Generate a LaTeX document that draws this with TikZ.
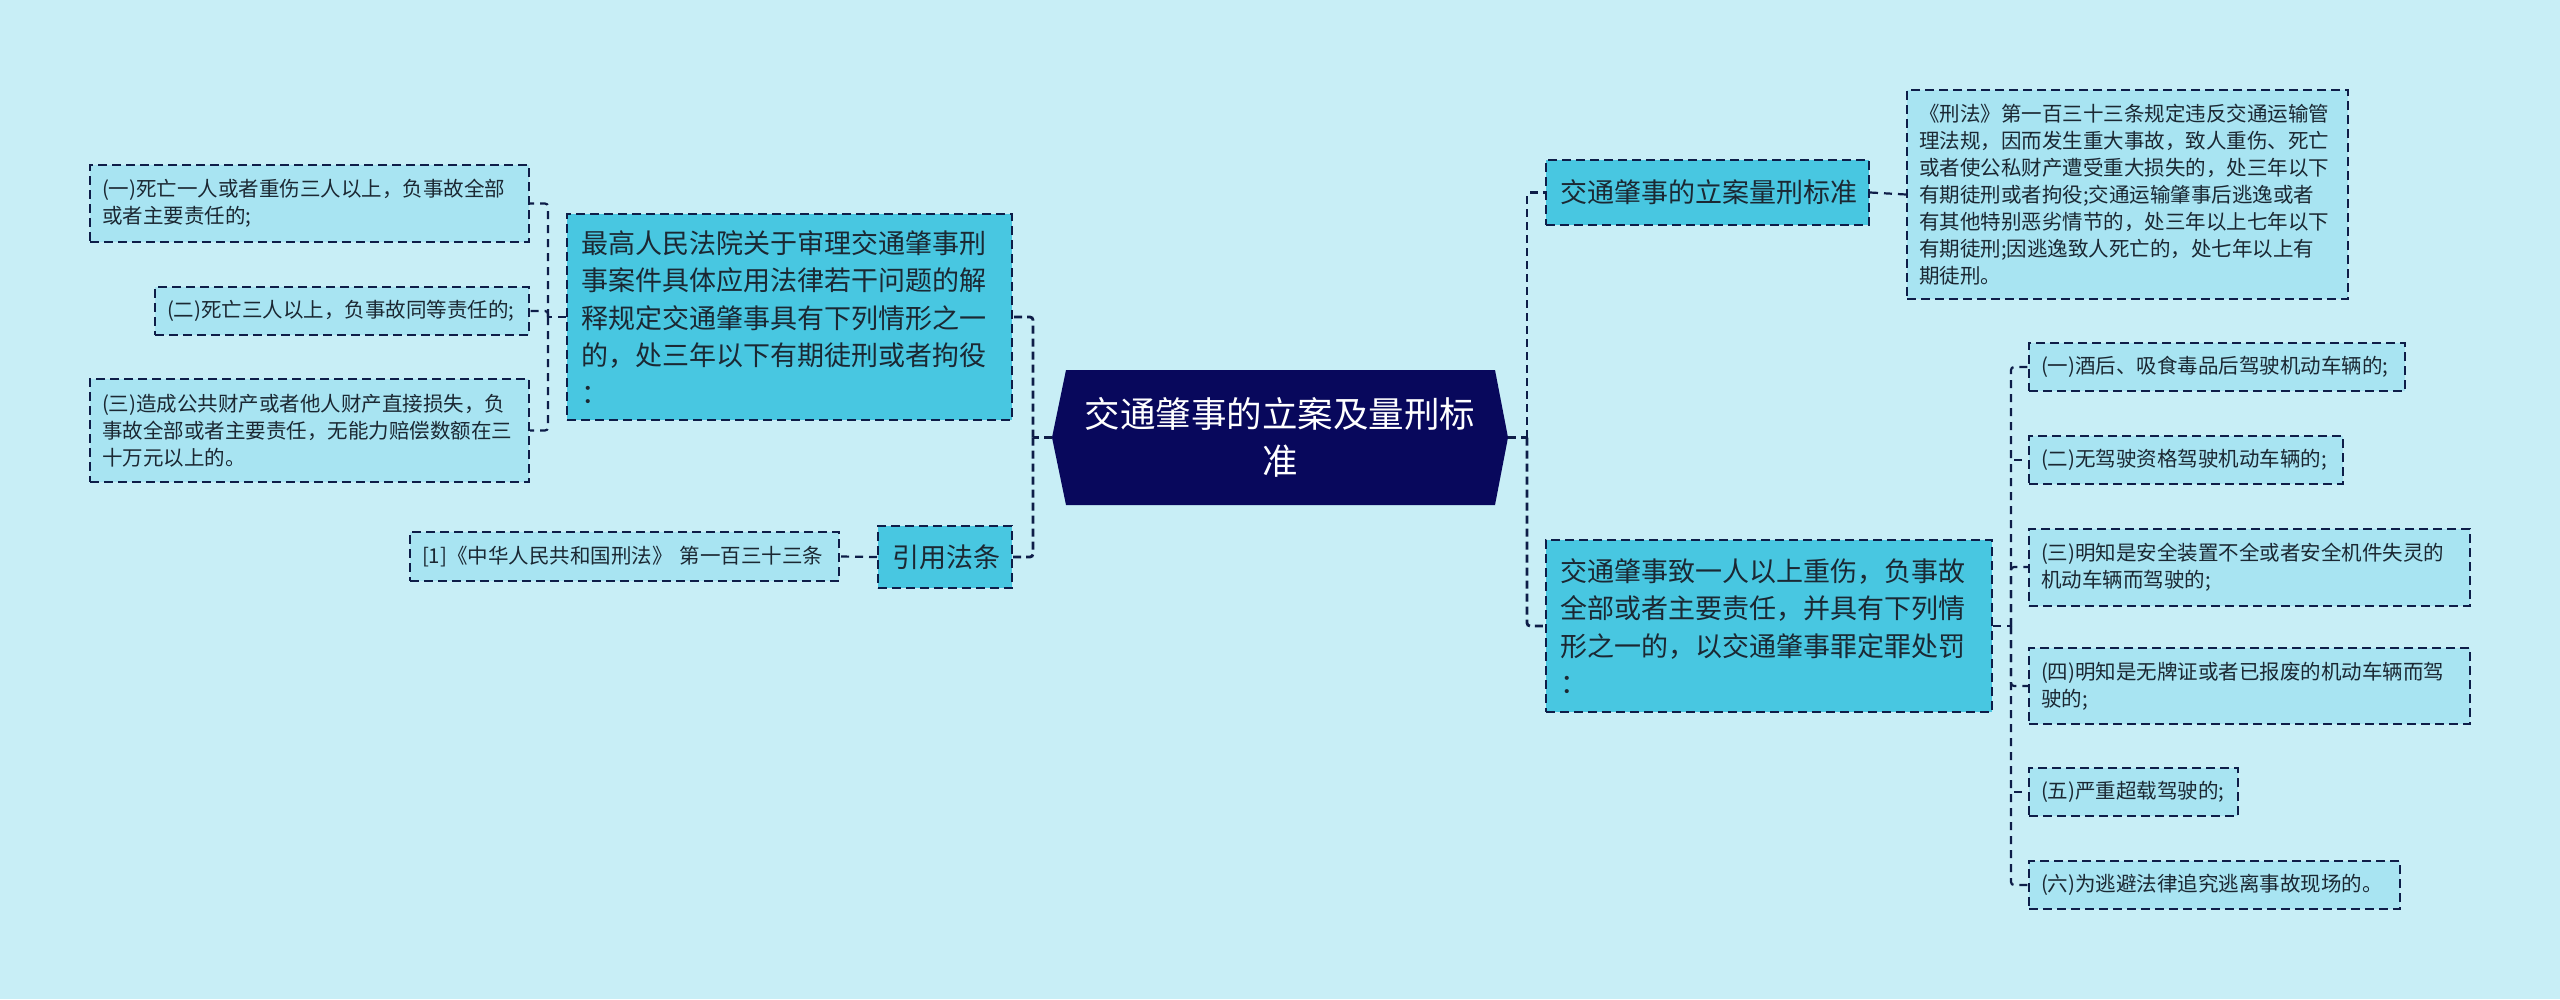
\documentclass[tikz,border=0pt]{standalone}
\usepackage{fontspec}
\newfontfamily\cjk{Noto Sans CJK SC}
\usetikzlibrary{calc}
\definecolor{bgc}{HTML}{C8EEF6}
\definecolor{midc}{HTML}{48C7E1}
\definecolor{leafc}{HTML}{A8E4F2}
\definecolor{rootc}{HTML}{08085C}
\definecolor{linec}{HTML}{0E1D48}
\definecolor{txtc}{HTML}{1B2833}
\begin{document}
\begin{tikzpicture}[x=1pt,y=-1pt,
  conn/.style={draw=linec, line width=2.8pt, dash pattern=on 8pt off 5pt, rounded corners=3pt},
  connb/.style={draw=linec, line width=2.2pt, dash pattern=on 8pt off 6pt, rounded corners=3pt},
  boxbase/.style={draw=linec, line width=2pt, dash pattern=on 9pt off 5pt, text=txtc, align=left, inner ysep=0pt, anchor=center},
  midbox/.style={boxbase, fill=midc, font=\cjk\fontsize{27}{37.5}\selectfont, inner xsep=14pt},
  leafbox/.style={boxbase, fill=leafc, font=\cjk\fontsize{20.5}{27}\selectfont, inner xsep=12pt},
]
\fill[bgc] (0,0) rectangle (2560,999);
\useasboundingbox (0,0) rectangle (2560,999);

% root hexagon
\fill[rootc] (1052,437.5) -- (1066,370) -- (1495,370) -- (1508,437.5) -- (1495,505) -- (1066,505) -- cycle;
\node[minimum width=456pt, minimum height=135pt, inner sep=0pt, text=white, align=center,
  font=\cjk\fontsize{35.5}{47}\selectfont] (root) at (1280,437.5) {交通肇事的立案及量刑标\\准};

% left side
\node[midbox, text width=417pt, minimum height=206pt] (L1) at (789.5,317)
 {最高人民法院关于审理交通肇事刑\\事案件具体应用法律若干问题的解\\释规定交通肇事具有下列情形之一\\的，处三年以下有期徒刑或者拘役\\：};
\node[midbox, text width=106pt, minimum height=62pt, align=center] (L2) at (945,557) {引用法条};

\node[leafbox, text width=415pt, minimum height=77pt] (LL1) at (309.5,203.5)
 {(一)死亡一人或者重伤三人以上，负事故全部\\或者主要责任的;};
\node[leafbox, text width=350pt, minimum height=48pt] (LL2) at (342,311)
 {(二)死亡三人以上，负事故同等责任的;};
\node[leafbox, text width=415pt, minimum height=103pt] (LL3) at (309.5,430.5)
 {(三)造成公共财产或者他人财产直接损失，负\\事故全部或者主要责任，无能力赔偿数额在三\\十万元以上的。};
\node[leafbox, text width=405pt, minimum height=49pt] (LR) at (624.5,556.5)
 {[1]《中华人民共和国刑法》 第一百三十三条};

% right side
\node[midbox, text width=295pt, minimum height=65pt] (R1) at (1707.5,192.5) {交通肇事的立案量刑标准};
\node[leafbox, text width=417pt, minimum height=209pt] (R1a) at (2127.5,194.5)
 {《刑法》第一百三十三条规定违反交通运输管\\理法规，因而发生重大事故，致人重伤、死亡\\或者使公私财产遭受重大损失的，处三年以下\\有期徒刑或者拘役;交通运输肇事后逃逸或者\\有其他特别恶劣情节的，处三年以上七年以下\\有期徒刑;因逃逸致人死亡的，处七年以上有\\期徒刑。};
\node[midbox, text width=418pt, minimum height=172pt] (R2) at (1769,626)
 {交通肇事致一人以上重伤，负事故\\全部或者主要责任，并具有下列情\\形之一的，以交通肇事罪定罪处罚\\：};

\node[leafbox, text width=352pt, minimum height=48pt] (Ra) at (2217,367) {(一)酒后、吸食毒品后驾驶机动车辆的;};
\node[leafbox, text width=290pt, minimum height=48pt] (Rb) at (2186,460) {(二)无驾驶资格驾驶机动车辆的;};
\node[leafbox, text width=417pt, minimum height=77pt] (Rc) at (2249.5,567) {(三)明知是安全装置不全或者安全机件失灵的\\机动车辆而驾驶的;};
\node[leafbox, text width=417pt, minimum height=76pt] (Rd) at (2249.5,686) {(四)明知是无牌证或者已报废的机动车辆而驾\\驶的;};
\node[leafbox, text width=185pt, minimum height=48pt] (Re) at (2133.5,792) {(五)严重超载驾驶的;};
\node[leafbox, text width=347pt, minimum height=48pt] (Rf) at (2214.5,885) {(六)为逃避法律追究逃离事故现场的。};

% connectors
\coordinate (tl) at (1033,437.5);
\coordinate (tr) at (1527,437.5);
\coordinate (tl1) at (548,317);
\coordinate (tr2) at (2011,626);

\draw[conn] (root.west) -- (tl);
\draw[conn] (tl) |- (L1.east);
\draw[conn] (tl) |- (L2.east);
\draw[conn] (root.east) -- (tr);
\draw[conn] (tr) |- (R1.west);
\draw[conn] (tr) |- (R2.west);

\draw[connb] (L1.west) -- (tl1);
\draw[connb] (tl1) |- (LL1.east);
\draw[connb] (tl1) |- (LL2.east);
\draw[connb] (tl1) |- (LL3.east);
\draw[connb] (L2.west) -- (LR.east);
\draw[connb] (R1.east) -- (R1a.west);
\draw[connb] (R2.east) -- (tr2);
\foreach \c in {Ra,Rb,Rc,Rd,Re,Rf}{\draw[connb] (tr2) |- (\c.west);}
\end{tikzpicture}
\end{document}
